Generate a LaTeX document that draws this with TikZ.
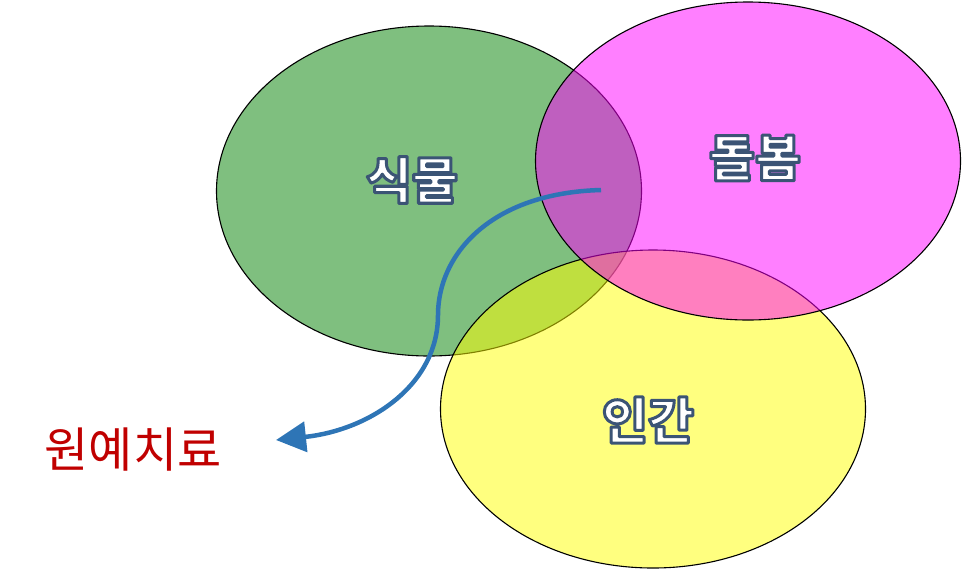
\documentclass[tikz,border=0pt]{standalone}
\usepackage{fontspec}
\usetikzlibrary{arrows.meta,shapes.geometric}
\newfontfamily\kr{Noto Sans CJK KR}
\definecolor{leafgreen}{RGB}{127,191,127}
\definecolor{carepink}{RGB}{255,0,255}
\definecolor{humanyellow}{RGB}{255,255,0}
\definecolor{arrowblue}{RGB}{46,117,182}
\definecolor{darkred}{RGB}{192,0,0}
% white letters with a dark blue outline
\newcommand{\fancy}[1]{{\color{white}\special{pdf:literal direct 2 Tr 3 w 1 j 0.231 0.329 0.459 RG}#1\special{pdf:literal direct 0 Tr 1 w 0 j 0 0 0 RG}}}

\begin{document}
\begin{tikzpicture}[x=1pt, y=-1pt,
	circ/.style={ellipse, draw=black, line width=1.1pt, inner sep=0pt},
	word/.style={font=\kr\bfseries\fontsize{50}{54}\selectfont},
	flow/.style={arrowblue, line width=4.5pt, -{Triangle[length=30pt,width=30pt]}}]
	\useasboundingbox (0,0) rectangle (963,571);
	% the three circles
	\node (plant) [circ, fill=leafgreen, minimum width=425pt, minimum height=330pt] at (429,191) {};
	\node (human) [circ, fill=humanyellow, fill opacity=0.5, minimum width=425pt, minimum height=318pt] at (653,409) {};
	\node (care) [circ, fill=carepink, fill opacity=0.5, minimum width=425pt, minimum height=318pt] at (748,161) {};
	% labels
	\node (plantL) [word] at (412,180) {\fancy{식물}};
	\node (careL) [word] at (755,158) {\fancy{돌봄}};
	\node (humanL) [word] at (648,420) {\fancy{인간}};
	\node (therapy) [font=\kr\fontsize{48}{52}\selectfont, text=darkred] at (133,450) {원예치료};
	\coordinate (start) at (601,190);
	\coordinate (tip) at (276,440);
	\draw[flow] (start) .. controls (490,193) and (438,255) .. (438,315)
		.. controls (438,385) and (370,430) .. (tip);
\end{tikzpicture}
\end{document}
